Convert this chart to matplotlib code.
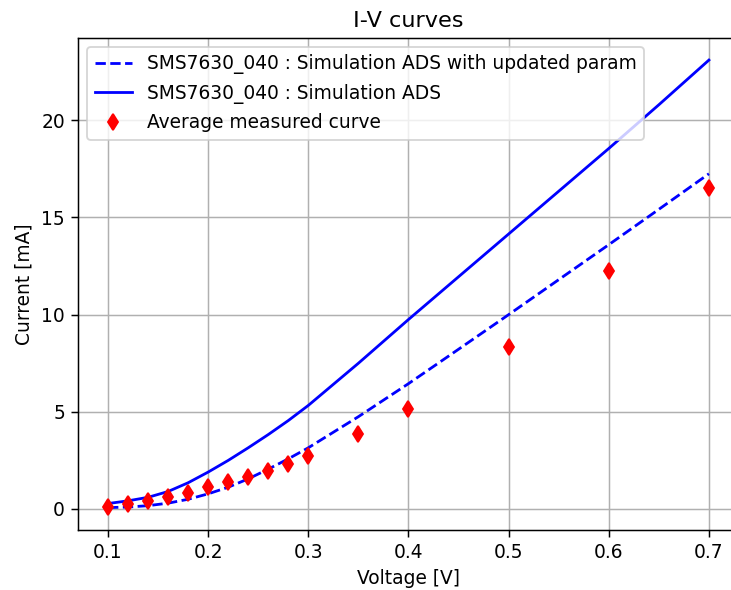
import matplotlib
matplotlib.use("Agg")
import matplotlib.pyplot as plt

# voltage grid of the simulated curves [V]
sim_voltage = [0.10, 0.12, 0.14, 0.16, 0.18, 0.20, 0.22, 0.24, 0.26, 0.28, 0.30,
               0.35, 0.40, 0.45, 0.50, 0.55, 0.60, 0.65, 0.70]
# ADS simulation with updated parameters [mA]
sim_updated = [0.07, 0.10, 0.17, 0.30, 0.50, 0.78, 1.12, 1.55, 2.05, 2.58, 3.15,
               4.75, 6.45, 8.22, 10.0, 11.8, 13.6, 15.42, 17.25]
# ADS simulation, original parameters [mA]
sim_original = [0.28, 0.42, 0.60, 0.90, 1.35, 1.90, 2.50, 3.15, 3.83, 4.55, 5.33,
                7.50, 9.75, 11.95, 14.15, 16.35, 18.55, 20.8, 23.1]

# averaged measurement
meas_voltage = [0.10, 0.12, 0.14, 0.16, 0.18, 0.20, 0.22, 0.24, 0.26, 0.28, 0.30,
                0.35, 0.40, 0.50, 0.60, 0.70]
meas_current = [0.12, 0.26, 0.43, 0.63, 0.84, 1.11, 1.37, 1.66, 1.96, 2.34, 2.72,
                3.85, 5.16, 8.36, 12.26, 16.5]

# the reference looks like a default figure shown at ~1.34x, so render at dpi 134
DPI = 134
fig = plt.figure(figsize=(731 / DPI, 590 / DPI), dpi=DPI)
# the reference is cropped on the right, so the axes run past the figure edge
ax = fig.add_axes([0.1067, 0.1017, 0.9042, 0.8344])

ax.plot(sim_voltage, sim_updated, "b--", label="SMS7630_040 : Simulation ADS with updated param")
ax.plot(sim_voltage, sim_original, "b-", label="SMS7630_040 : Simulation ADS")
ax.plot(meas_voltage, meas_current, "rd", label="Average measured curve")

ax.set_title("I-V curves")
ax.set_xlabel("Voltage [V]")
ax.set_ylabel("Current [mA]")
ax.grid(True)
ax.legend(loc="upper left")

fig.savefig("out.png", dpi=DPI)
